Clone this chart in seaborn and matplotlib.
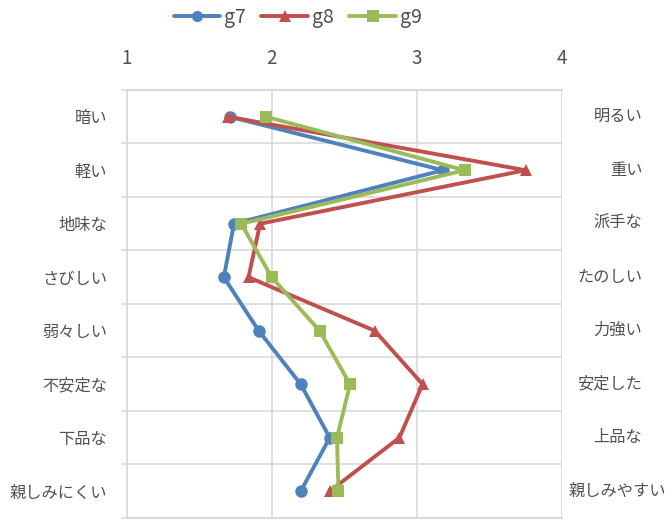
import matplotlib
matplotlib.use("Agg")
import matplotlib.pyplot as plt
import matplotlib.transforms as mtransforms
import numpy as np
import pandas as pd
import seaborn as sns

# Semantic differential items: negative pole (left) and positive pole (right)
left_terms = ["暗い", "軽い", "地味な", "さびしい", "弱々しい", "不安定な", "下品な", "親しみにくい"]
right_terms = ["明るい", "重い", "派手な", "たのしい", "力強い", "安定した", "上品な", "親しみやすい"]

g7 = [1.71, 3.18, 1.74, 1.67, 1.91, 2.20, 2.40, 2.20]
g8 = [1.70, 3.75, 1.92, 1.84, 2.71, 3.04, 2.88, 2.40]
g9 = [1.96, 3.33, 1.79, 2.00, 2.33, 2.54, 2.45, 2.46]

groups = ["g7", "g8", "g9"]
x_ticks = [1, 2, 3, 4]

sns.set_theme(style="white")
plt.rcParams["font.family"] = ["Noto Sans CJK JP", "DejaVu Sans"]

text_color = "#505050"
grid_color = "#D9D9D9"
palette = {"g7": "#4F81BD", "g8": "#C0504D", "g9": "#9BBB59"}
markers = {"g7": "o", "g8": "^", "g9": "s"}

rows = []
for name, vals in zip(groups, [g7, g8, g9]):
    for i, v in enumerate(vals):
        rows.append({"group": name, "item": i, "score": v})
df = pd.DataFrame(rows)

fig = plt.figure(figsize=(6.72, 5.21), dpi=100)
ax = fig.add_axes([0.1885, 0.0058, 0.6475, 0.8215])

sns.lineplot(
    data=df, x="score", y="item", hue="group", style="group",
    palette=palette, markers=markers, dashes=False, sort=False,
    orient="y", linewidth=2.8, markersize=9, markeredgewidth=0,
    ax=ax, legend=True, zorder=4,
)

n = len(left_terms)
ax.set_xlim(1, 4)
ax.set_ylim(n - 0.5, -0.5)
ax.set_xlabel("")
ax.set_ylabel("")

# x axis on top, no tick marks
ax.xaxis.tick_top()
ax.set_xticks(x_ticks)
ax.set_xticklabels([str(t) for t in x_ticks])
ax.tick_params(axis="x", which="both", length=0, pad=15, labelsize=13.5,
               labelcolor=text_color)
ax.xaxis.grid(True, color=grid_color, linewidth=1.2)

# category labels at centres, separators at band boundaries
ax.set_yticks(range(n))
ax.set_yticklabels(left_terms)
ax.set_yticks(np.arange(-0.5, n, 1.0), minor=True)
ax.tick_params(axis="y", which="major", length=0, pad=14, labelsize=11.7,
               labelcolor=text_color)
ax.tick_params(axis="y", which="minor", length=4.5, width=1.2,
               color=grid_color, direction="out", left=True)
ax.yaxis.grid(True, which="minor", color=grid_color, linewidth=1.2)
ax.yaxis.grid(False, which="major")

for side, sp in ax.spines.items():
    if side == "left":
        sp.set_color(grid_color)
        sp.set_linewidth(1.2)
    else:
        sp.set_visible(False)

# outer band boundaries
for yb in (-0.5, n - 0.5):
    ax.axhline(yb, color=grid_color, linewidth=1.5, clip_on=False, zorder=3)

# positive-pole labels on the right
trans = mtransforms.blended_transform_factory(ax.transAxes, ax.transData)
for i, term in enumerate(right_terms):
    if len(term) > 5:
        ax.text(1.0145, i, term, transform=trans, ha="left", va="center",
                fontsize=11.7, color=text_color)
    else:
        ax.text(1.185, i, term, transform=trans, ha="right", va="center",
                fontsize=11.7, color=text_color)

handles, labels = ax.get_legend_handles_labels()
ax.legend_.remove()
for h in handles:
    h.set_linewidth(2.8)
    h.set_markersize(8)
fig.legend(handles, labels, loc="center", bbox_to_anchor=(0.443, 0.967),
           ncol=3, frameon=False, fontsize=14, handlelength=2.4,
           handletextpad=0.2, columnspacing=0.8, labelcolor=text_color)

fig.savefig("out.png", dpi=100)
